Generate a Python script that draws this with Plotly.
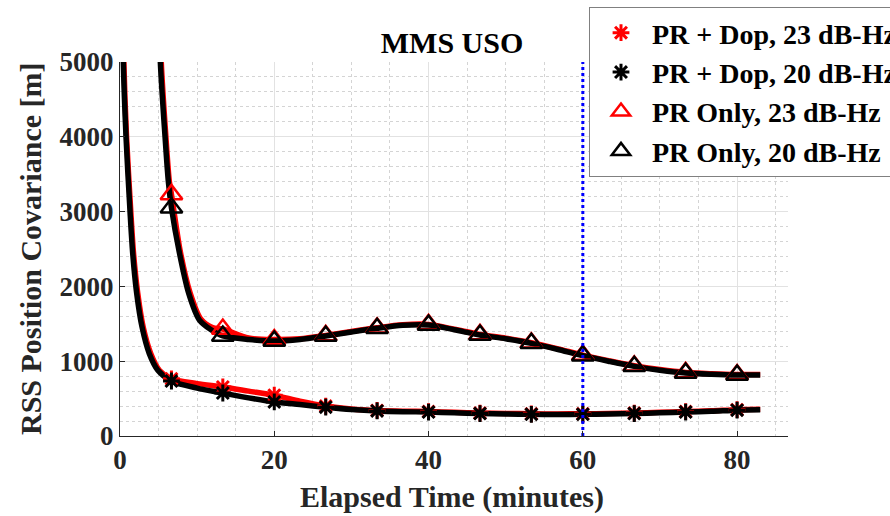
import plotly.graph_objects as go

# ---- data ----
marker_times = [6.67, 13.33, 20, 26.67, 33.33, 40, 46.67, 53.33, 60, 66.67, 73.33, 80]

# PR + Dop, 23 dB-Hz (red)
dop23_t = [0.3, 0.5, 0.85, 1.4, 1.75, 2.3, 3.0, 4.0, 5.1, 6.67, 10, 13.33, 16.67, 20, 23.33, 26.67,
           30, 33.33, 36.67, 40, 43.33, 46.67, 50, 53.33, 56.67, 60, 63.33, 66.67, 70, 73.33, 76.67, 80, 83]
dop23_v = [6500, 5000, 4000, 3000, 2450, 1910, 1460, 1100, 880, 765, 700, 655, 600, 545, 465, 400,
           362, 342, 332, 327, 317, 307, 302, 297, 295, 297, 300, 307, 317, 327, 337, 352, 357]

# PR + Dop, 20 dB-Hz (black)
dop20_t = [0.25, 0.43, 0.78, 1.3, 1.64, 2.16, 2.85, 3.8, 4.9, 6.67, 10, 13.33, 16.67, 20, 23.33, 26.67,
           30, 33.33, 36.67, 40, 43.33, 46.67, 50, 53.33, 56.67, 60, 63.33, 66.67, 70, 73.33, 76.67, 80, 83]
dop20_v = [6500, 5000, 4000, 3000, 2450, 1910, 1460, 1100, 880, 735, 640, 575, 510, 455, 420, 385,
           355, 335, 325, 320, 310, 300, 295, 290, 288, 290, 293, 300, 310, 320, 330, 345, 350]

# PR Only, 23 dB-Hz (red)
pr23_t = [5.0, 5.35, 5.95, 6.4, 6.67, 7.85, 9.1, 10.5, 12.0, 13.33, 16.67, 20, 23.33, 26.67, 30, 33.33,
          36.67, 40, 43.33, 46.67, 50, 53.33, 56.67, 60, 63.33, 66.67, 70, 73.33, 76.67, 80, 83]
pr23_v = [6500, 5000, 4000, 3400, 3230, 2450, 1910, 1560, 1450, 1430, 1310, 1290, 1300, 1345, 1398, 1448,
          1488, 1492, 1428, 1358, 1308, 1247, 1168, 1082, 1008, 939, 888, 850, 833, 823, 823]

# PR Only, 20 dB-Hz (black)
pr20_t = [4.9, 5.23, 5.84, 6.27, 6.67, 7.7, 8.9, 10.3, 11.8, 13.33, 16.67, 20, 23.33, 26.67, 30, 33.33,
          36.67, 40, 43.33, 46.67, 50, 53.33, 56.67, 60, 63.33, 66.67, 70, 73.33, 76.67, 80, 83]
pr20_v = [6500, 5000, 4000, 3400, 3050, 2450, 1910, 1550, 1420, 1337, 1290, 1270, 1290, 1337, 1390, 1440,
          1480, 1484, 1420, 1350, 1300, 1239, 1160, 1074, 1000, 931, 880, 842, 825, 815, 815]

marker_line_t = [60, 60]
marker_line_v = [0, 5000]

x_ticks = [0, 20, 40, 60, 80]
y_ticks = [0, 1000, 2000, 3000, 4000, 5000]

series = [
    ("PR + Dop, 23 dB-Hz", dop23_t, dop23_v, "red", "asterisk-open", 14),
    ("PR + Dop, 20 dB-Hz", dop20_t, dop20_v, "black", "asterisk-open", 14),
    ("PR Only, 23 dB-Hz", pr23_t, pr23_v, "red", "triangle-up-open", 19),
    ("PR Only, 20 dB-Hz", pr20_t, pr20_v, "black", "triangle-up-open", 19),
]

FONT = "Liberation Serif"
AX = "#262626"

fig = go.Figure()

# lines: red first, black on top
line_order = [0, 2, 1, 3]
for i in line_order:
    name, t, v, col, sym, sz = series[i]
    fig.add_trace(go.Scatter(x=t, y=v, mode="lines", line=dict(color=col, width=5.5, shape="spline", smoothing=0.8),
                             showlegend=False, hoverinfo="skip"))

for i, (name, t, v, col, sym, sz) in enumerate(series):
    mv = [v[t.index(mt)] for mt in marker_times]
    fig.add_trace(go.Scatter(x=marker_times, y=mv, mode="markers", name=name,
                             marker=dict(symbol=sym, size=sz, color=col, line=dict(color=col, width=3 if "aster" in sym else 2.5)),
                             cliponaxis=False))

fig.add_trace(go.Scatter(x=marker_line_t, y=marker_line_v, mode="lines",
                         line=dict(color="#0000ff", width=3, dash="dot"), showlegend=False, hoverinfo="skip"))

fig.update_layout(
    width=890, height=516,
    margin=dict(l=120, r=102, t=62, b=80, autoexpand=False),
    plot_bgcolor="white", paper_bgcolor="white",
    title=dict(text="MMS USO", x=452/890, xref="container", xanchor="center",
               y=1-42/516, yref="container", yanchor="middle",
               font=dict(family=FONT, size=30, color="black", weight="bold")),
    legend=dict(x=589/890, xref="container", xanchor="left", y=1-7/516, yref="container", yanchor="top",
                bgcolor="white", bordercolor="#808080", borderwidth=1,
                font=dict(family=FONT, size=28, color="black", weight="bold"),
                itemwidth=52),
    xaxis=dict(range=[0, 86.6], tickvals=x_ticks, ticktext=[str(v) for v in x_ticks],
               showline=True, linecolor=AX, linewidth=1, mirror=False,
               ticks="inside", ticklen=5, tickcolor=AX,
               tickfont=dict(family=FONT, size=27, color=AX, weight="bold"),
               showgrid=True, gridcolor="#e2e2e2", gridwidth=1, zeroline=False,
               minor=dict(dtick=5, showgrid=True, gridcolor="#d4d4d4", griddash="dot", gridwidth=1, ticks="")),
    yaxis=dict(range=[0, 5000], tickvals=y_ticks, ticktext=[str(v) for v in y_ticks],
               showline=True, linecolor=AX, linewidth=1, mirror=False,
               ticks="inside", ticklen=5, tickcolor=AX,
               tickfont=dict(family=FONT, size=27, color=AX, weight="bold"),
               showgrid=True, gridcolor="#e2e2e2", gridwidth=1, zeroline=False,
               minor=dict(dtick=200, showgrid=True, gridcolor="#d4d4d4", griddash="dot", gridwidth=1, ticks="")),
    annotations=[
        dict(text="RSS Position Covariance [m]", xref="paper", yref="paper", x=(30-120)/668, y=0.5,
             xanchor="center", yanchor="middle", textangle=-90, showarrow=False,
             font=dict(family=FONT, size=30, color=AX, weight="bold")),
        dict(text="Elapsed Time (minutes)", xref="paper", yref="paper", x=(452-120)/668, y=(436-497)/374,
             xanchor="center", yanchor="middle", showarrow=False,
             font=dict(family=FONT, size=30, color=AX, weight="bold")),
    ],
)

fig.write_html("out.html")
